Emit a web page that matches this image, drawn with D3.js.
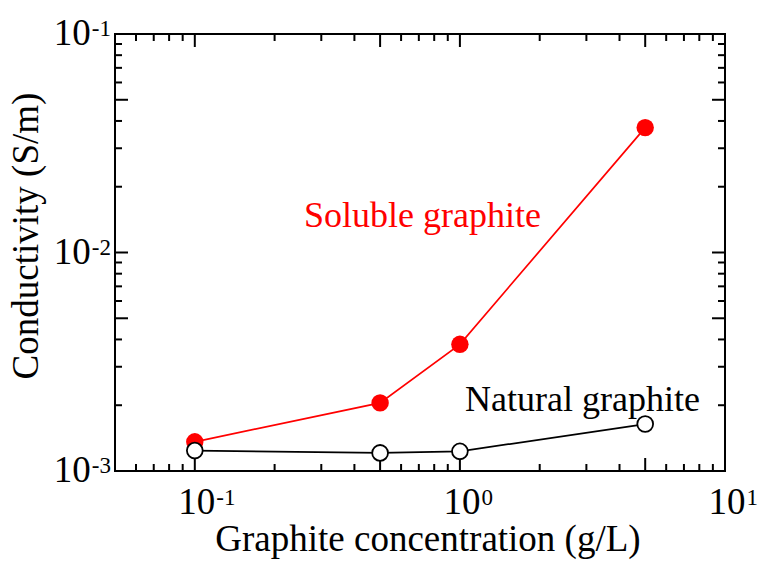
<!DOCTYPE html>
<html>
<head>
<meta charset="utf-8">
<script src="https://cdn.jsdelivr.net/npm/d3@7"></script>
<style>
  html, body { margin: 0; padding: 0; background: #fff; }
  svg { display: block; }
  text { font-family: "Liberation Serif", "Times New Roman", Times, serif; }
</style>
</head>
<body>
<svg id="chart" width="758" height="562"></svg>
<script>
// Graphite concentration (g/L) and conductivity (S/m) for both graphite types
const concentration = [0.1, 0.5, 1, 5];
const solubleConductivity = [1.36e-3, 2.05e-3, 3.8e-3, 3.73e-2];
const naturalConductivity = [1.24e-3, 1.21e-3, 1.23e-3, 1.64e-3];
const seriesNames = ["Soluble graphite", "Natural graphite"];
const xTickExponents = [-1, 0, 1];
const yTickExponents = [-3, -2, -1];
const xDomain = [0.05, 10];
const yDomain = [1e-3, 1e-1];

const svg = d3.select("#chart");
const plot = { left: 115, right: 725, top: 34, bottom: 471 };

const x = d3.scaleLog().domain(xDomain).range([plot.left, plot.right]);
const y = d3.scaleLog().domain(yDomain).range([plot.bottom, plot.top]);

// Decade subdivision ticks: long at 1 and 5, short at the rest
function logTicks(domain) {
  const out = [];
  const lo = Math.floor(Math.log10(domain[0]));
  const hi = Math.ceil(Math.log10(domain[1]));
  for (let e = lo; e <= hi; e++) {
    for (let m = 1; m <= 9; m++) {
      const v = m * Math.pow(10, e);
      if (v >= domain[0] * 0.9999 && v <= domain[1] * 1.0001) {
        out.push({ v, major: m === 1 || m === 5 });
      }
    }
  }
  return out;
}
const majorLen = 13, minorLen = 7;

const axes = svg.append("g").attr("stroke", "#000").attr("stroke-width", 2).attr("fill", "none");

logTicks(xDomain).forEach(t => {
  const px = x(t.v), len = t.major ? majorLen : minorLen;
  axes.append("line").attr("x1", px).attr("x2", px).attr("y1", plot.bottom).attr("y2", plot.bottom - len);
  axes.append("line").attr("x1", px).attr("x2", px).attr("y1", plot.top).attr("y2", plot.top + len);
});
logTicks(yDomain).forEach(t => {
  const py = y(t.v), len = t.major ? majorLen : minorLen;
  axes.append("line").attr("x1", plot.left).attr("x2", plot.left + len).attr("y1", py).attr("y2", py);
  axes.append("line").attr("x1", plot.right).attr("x2", plot.right - len).attr("y1", py).attr("y2", py);
});
axes.append("rect")
  .attr("x", plot.left).attr("y", plot.top)
  .attr("width", plot.right - plot.left).attr("height", plot.bottom - plot.top)
  .attr("stroke-linejoin", "miter");

// Power-of-ten tick labels: "10" with a raised exponent, tops aligned
const baseSize = 37, supSize = 23;
const supRaise = 9;
xTickExponents.forEach(e => {
  const px = x(Math.pow(10, e)) + 2;
  const g = svg.append("g");
  g.append("text").attr("x", px).attr("y", 514).attr("text-anchor", "middle")
    .attr("font-size", baseSize).text("10");
  g.append("text").attr("x", px + baseSize * 0.5 + 1).attr("y", 514 - supRaise)
    .attr("font-size", supSize).text(String(e));
});
yTickExponents.forEach(e => {
  const py = y(Math.pow(10, e));
  const g = svg.append("g");
  const sup = g.append("text").attr("x", 111).attr("y", py + 11 - supRaise).attr("text-anchor", "end")
    .attr("font-size", supSize).text(String(e));
  const w = sup.node().getComputedTextLength();
  g.append("text").attr("x", 111 - w - 1).attr("y", py + 11).attr("text-anchor", "end")
    .attr("font-size", baseSize).text("10");
});

// Axis titles
svg.append("text").attr("x", 428).attr("y", 551).attr("text-anchor", "middle")
  .attr("font-size", 37).text("Graphite concentration (g/L)");
svg.append("text").attr("transform", "translate(38,236) rotate(-90)")
  .attr("text-anchor", "middle").attr("font-size", 37).text("Conductivity (S/m)");

// Series
const line = d3.line().x(d => x(d[0])).y(d => y(d[1]));
const soluble = concentration.map((c, i) => [c, solubleConductivity[i]]);
const natural = concentration.map((c, i) => [c, naturalConductivity[i]]);

svg.append("path").datum(soluble).attr("d", line)
  .attr("fill", "none").attr("stroke", "#ff0000").attr("stroke-width", 1.7);
svg.append("path").datum(natural).attr("d", line)
  .attr("fill", "none").attr("stroke", "#000").attr("stroke-width", 1.7);

svg.append("g").selectAll("circle").data(soluble).join("circle")
  .attr("cx", d => x(d[0])).attr("cy", d => y(d[1])).attr("r", 8.7)
  .attr("fill", "#ff0000");
svg.append("g").selectAll("circle").data(natural).join("circle")
  .attr("cx", d => x(d[0])).attr("cy", d => y(d[1])).attr("r", 7.9)
  .attr("fill", "#fff").attr("stroke", "#000").attr("stroke-width", 1.8);

// Series labels
svg.append("text").attr("x", 304).attr("y", 227).attr("font-size", 36)
  .attr("fill", "#ff0000").text(seriesNames[0]);
svg.append("text").attr("x", 465).attr("y", 411).attr("font-size", 36)
  .attr("fill", "#000").text(seriesNames[1]);
</script>
</body>
</html>
